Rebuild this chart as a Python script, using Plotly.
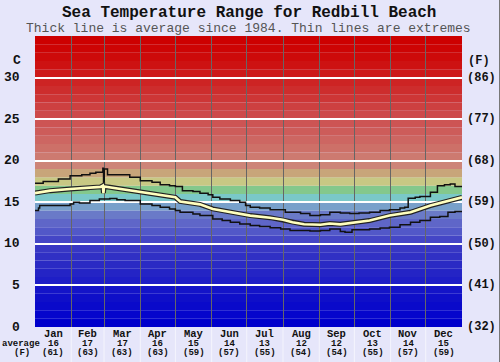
import plotly.graph_objects as go

# ---------------- data ----------------
months = ["Jan", "Feb", "Mar", "Apr", "May", "Jun", "Jul", "Aug", "Sep", "Oct", "Nov", "Dec"]
month_days = [31, 28, 31, 30, 31, 30, 31, 31, 30, 31, 30, 31]
avg_c = [16, 17, 17, 16, 15, 14, 13, 12, 12, 13, 14, 15]
avg_f = [61, 63, 63, 63, 59, 57, 55, 54, 54, 55, 57, 59]

c_ticks = [0, 5, 10, 15, 20, 25, 30]
f_ticks = [32, 41, 50, 59, 68, 77, 86]

max_day = [0, 7, 20, 30, 40, 47, 52, 57, 58, 58.6, 59.2, 62, 70, 81, 90, 100, 107, 115, 120, 126,
           135, 141, 148, 152, 158, 167, 175, 180, 184, 192, 201, 214, 222, 227, 235, 244, 252,
           261, 269, 277, 286, 295, 303, 312, 316, 319, 325, 329, 338, 344, 350, 355, 359, 365]
max_t = [17.3, 17.5, 17.8, 18.2, 18.3, 18.5, 18.6, 18.6, 19.1, 17.0, 19.0, 18.3, 18.3, 18.0, 17.6,
         17.4, 17.1, 17.0, 16.9, 16.4, 16.3, 16.1, 15.9, 15.6, 15.4, 15.2, 15.0, 14.6, 14.4, 14.3,
         14.1, 13.8, 13.8, 13.65, 13.4, 13.5, 13.8, 13.7, 13.65, 13.7, 13.8, 14.0, 14.1, 14.3,
         14.4, 15.5, 15.6, 15.7, 16.2, 17.0, 17.1, 17.2, 16.9, 16.8]

avg_day = [0, 13, 30, 47, 56, 58, 58.5, 59, 64, 81, 98, 120, 124, 141, 152, 167, 184, 201, 212,
           220, 230, 244, 252, 261, 269, 286, 303, 321, 338, 355, 365]
avg_t = [16.1, 16.4, 16.6, 16.75, 16.85, 17.0, 16.1, 16.9, 16.8, 16.4, 16.1, 15.6, 15.1, 14.75,
         14.2, 13.8, 13.4, 13.15, 12.9, 12.6, 12.35, 12.3, 12.45, 12.35, 12.5, 12.8, 13.4, 13.8,
         14.6, 15.2, 15.6]

min_day = [0, 3, 4, 13, 30, 33, 38, 47, 55, 64, 70, 77, 90, 100, 107, 115, 120, 124, 135, 141,
           152, 160, 167, 175, 184, 192, 201, 210, 218, 227, 235, 244, 252, 261, 265, 271, 286,
           295, 303, 312, 321, 329, 338, 346, 353, 359, 365]
min_t = [14.0, 14.3, 14.6, 14.6, 14.8, 15.0, 14.9, 15.2, 15.4, 15.45, 15.3, 15.2, 14.8, 14.6,
         14.4, 14.2, 14.0, 13.8, 13.6, 13.4, 13.0, 12.8, 12.6, 12.4, 12.2, 12.1, 11.95, 11.8,
         11.6, 11.6, 11.55, 11.6, 11.8, 11.5, 11.4, 11.7, 11.8, 11.9, 12.0, 12.3, 12.6, 12.8,
         13.2, 13.3, 13.8, 13.9, 13.95]

# ---------------- style ----------------
band_colors = [
    (0, 0, 204), (5, 5, 204), (10, 10, 202), (15, 15, 200), (20, 20, 200),
    (30, 30, 198), (36, 36, 197), (42, 42, 196), (48, 48, 196), (55, 55, 196),
    (68, 70, 198), (82, 88, 200), (95, 102, 200), (106, 122, 200), (120, 160, 202),
    (122, 200, 200), (132, 200, 140), (200, 200, 132), (200, 165, 122), (205, 132, 120),
    (205, 122, 112), (205, 112, 104), (205, 102, 98), (205, 92, 90), (205, 84, 84),
    (205, 74, 74), (205, 64, 64), (205, 54, 54), (205, 45, 45), (205, 36, 36),
    (205, 26, 26), (205, 18, 18), (205, 10, 10), (205, 4, 4), (205, 0, 0),
]

FONT = "Liberation Mono"
L, R, T, B = 35, 38, 36, 35
W, H = 500, 362
PW, PH = W - L - R, H - T - B


def px2paper_x(px):
    return (px - L) / PW


def px2paper_y(py):
    return (H - B - py) / PH


fig = go.Figure()

fig.add_trace(go.Scatter(x=max_day, y=max_t, mode="lines", line=dict(color="#111", width=1.5, shape="hv"),
                         hoverinfo="skip"))
fig.add_trace(go.Scatter(x=min_day, y=min_t, mode="lines", line=dict(color="#111", width=1.5, shape="hv"),
                         hoverinfo="skip"))
fig.add_trace(go.Scatter(x=avg_day, y=avg_t, mode="lines", line=dict(color="#222", width=5),
                         hoverinfo="skip"))
fig.add_trace(go.Scatter(x=avg_day, y=avg_t, mode="lines", line=dict(color="#ffffbe", width=2.6),
                         hoverinfo="skip"))

shapes = []
for i, c in enumerate(band_colors):
    shapes.append(dict(type="rect", xref="paper", yref="y", x0=0, x1=1, y0=i, y1=i + 1,
                       fillcolor="rgb(%d,%d,%d)" % c, line=dict(width=0), layer="below"))

# month boundaries
bounds = [0]
for d in month_days:
    bounds.append(bounds[-1] + d)
for b in bounds[1:-1]:
    shapes.append(dict(type="line", xref="x", yref="paper", x0=b, x1=b, y0=px2paper_y(H), y1=0,
                       line=dict(color="rgba(255,255,255,0.6)", width=1)))
# right edge frame
shapes.append(dict(type="line", xref="paper", yref="paper", x0=px2paper_x(499.5), x1=px2paper_x(499.5),
                   y0=px2paper_y(H), y1=px2paper_y(0), line=dict(color="#777", width=1)))

annotations = []
annotations.append(dict(text="<b>Sea Temperature Range for Redbill Beach</b>", xref="paper", yref="paper",
                        x=px2paper_x(249), y=px2paper_y(13), showarrow=False,
                        font=dict(family=FONT, size=16, color="#111"), xanchor="center", yanchor="middle"))
annotations.append(dict(text="Thick line is average since 1984. Thin lines are extremes", xref="paper",
                        yref="paper", x=px2paper_x(248), y=px2paper_y(28), showarrow=False,
                        font=dict(family=FONT, size=13, color="#555"), xanchor="center", yanchor="middle"))

for c, f in zip(c_ticks, f_ticks):
    annotations.append(dict(text="<b>%d</b>" % c, xref="paper", yref="y", x=px2paper_x(22), y=c,
                            showarrow=False, font=dict(family=FONT, size=13, color="#111"),
                            xanchor="right", yanchor="middle"))
    annotations.append(dict(text="<b>(%d)</b>" % f, xref="paper", yref="y", x=px2paper_x(465), y=c,
                            showarrow=False, font=dict(family=FONT, size=12, color="#111"),
                            xanchor="left", yanchor="middle"))
annotations.append(dict(text="<b>C</b>", xref="paper", yref="y", x=px2paper_x(17), y=32,
                        showarrow=False, font=dict(family=FONT, size=13, color="#111"),
                        xanchor="center", yanchor="middle"))
annotations.append(dict(text="<b>(F)</b>", xref="paper", yref="y", x=px2paper_x(479), y=32,
                        showarrow=False, font=dict(family=FONT, size=12, color="#111"),
                        xanchor="center", yanchor="middle"))

for i, m in enumerate(months):
    xc = (bounds[i] + bounds[i + 1]) / 2
    annotations.append(dict(text="<b>%s</b>" % m, xref="x", yref="paper", x=xc, y=px2paper_y(333.5),
                            showarrow=False, font=dict(family=FONT, size=10.5, color="#111"),
                            xanchor="center", yanchor="middle", borderpad=0))
    annotations.append(dict(text="<b>%d</b>" % avg_c[i], xref="x", yref="paper", x=xc, y=px2paper_y(343.5),
                            showarrow=False, font=dict(family=FONT, size=9, color="#111"),
                            xanchor="center", yanchor="middle", borderpad=0))
    annotations.append(dict(text="<b>(%d)</b>" % avg_f[i], xref="x", yref="paper", x=xc, y=px2paper_y(353),
                            showarrow=False, font=dict(family=FONT, size=9, color="#111"),
                            xanchor="center", yanchor="middle", borderpad=0))
annotations.append(dict(text="<b>average</b>", xref="paper", yref="paper", x=px2paper_x(21),
                        y=px2paper_y(343.5), showarrow=False, font=dict(family=FONT, size=9, color="#111"),
                        xanchor="center", yanchor="middle", borderpad=0))
annotations.append(dict(text="<b>(F)</b>", xref="paper", yref="paper", x=px2paper_x(22),
                        y=px2paper_y(353), showarrow=False, font=dict(family=FONT, size=9, color="#111"),
                        xanchor="center", yanchor="middle", borderpad=0))

fig.update_layout(
    width=W, height=H,
    margin=dict(l=L, r=R, t=T, b=B, pad=0),
    paper_bgcolor="#e6e6fa",
    plot_bgcolor="#e6e6fa",
    showlegend=False,
    shapes=shapes,
    annotations=annotations,
    xaxis=dict(range=[0, 365], tickvals=bounds[1:-1], showticklabels=False, ticks="",
               showgrid=True, gridcolor="#666", gridwidth=1, zeroline=False, showline=False,
               fixedrange=True),
    yaxis=dict(range=[0, 35], tickvals=[5, 10, 15, 20, 25, 30], showticklabels=False, ticks="",
               showgrid=True, gridcolor="white", gridwidth=1.6, zeroline=False, showline=False,
               fixedrange=True),
)

fig.write_html("out.html", config={"displayModeBar": False},
               post_script="document.body.style.margin='0';document.body.style.padding='0';"
                           "document.body.style.overflow='hidden';")
